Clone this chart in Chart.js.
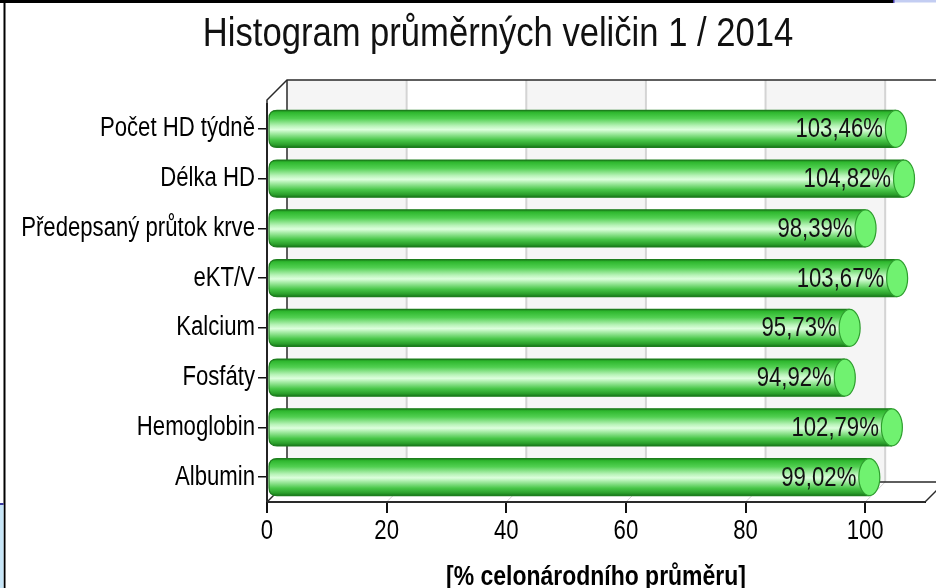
<!DOCTYPE html>
<html>
<head>
<meta charset="utf-8">
<script src="https://cdn.jsdelivr.net/npm/chart.js@4.4.1/dist/chart.umd.min.js"></script>
<style>
  html, body { margin: 0; padding: 0; background: #ffffff; }
  #wrap { width: 936px; height: 588px; position: relative; }
</style>
</head>
<body>
<div id="wrap"><canvas id="c" width="936" height="588"></canvas></div>
<script>
// ---- data ----
const chartTitle = 'Histogram průměrných veličin 1 / 2014';
const axisTitle = '[% celonárodního průměru]';
const categories = ['Počet HD týdně', 'Délka HD', 'Předepsaný průtok krve', 'eKT/V', 'Kalcium', 'Fosfáty', 'Hemoglobin', 'Albumin'];
const values = [103.46, 104.82, 98.39, 103.67, 95.73, 94.92, 102.79, 99.02];
const xTickValues = [0, 20, 40, 60, 80, 100];

const FONT = '"Liberation Sans", Arial, sans-serif';
const DEPTH = 20;

function fmt(v) { return v.toFixed(2).replace('.', ',') + '%'; }

// narrow-looking text: draw every label horizontally condensed around its anchor
const canvas = document.getElementById('c');
const ctx2d = canvas.getContext('2d');
const origFillText = ctx2d.fillText.bind(ctx2d);
ctx2d.fillText = function (text, x, y, maxWidth) {
  const m = /(\d+(?:\.\d+)?)px/.exec(this.font);
  const size = m ? parseFloat(m[1]) : 12;
  const f = size >= 36 ? 0.865 : 0.82;
  this.save();
  this.translate(x, y);
  this.scale(f, 1);
  if (maxWidth === undefined) origFillText(text, 0, 0);
  else origFillText(text, 0, 0, maxWidth / f);
  this.restore();
};

function cylGrad(ctx, top, bottom) {
  const g = ctx.createLinearGradient(0, top, 0, bottom);
  g.addColorStop(0.00, '#1c861c');
  g.addColorStop(0.06, '#2fb82f');
  g.addColorStop(0.22, '#52d052');
  g.addColorStop(0.42, '#b8f3b8');
  g.addColorStop(0.52, '#ddffdd');
  g.addColorStop(0.62, '#a6eca6');
  g.addColorStop(0.80, '#48c648');
  g.addColorStop(0.93, '#2b9f2b');
  g.addColorStop(1.00, '#17761a');
  return g;
}

const threeD = {
  id: 'threeD',
  afterLayout(chart) {
    // the original title is centred a little right of the canvas centre
    if (chart.titleBlock) { chart.titleBlock.left = 60; chart.titleBlock.right = 936; }
  },
  beforeDatasetsDraw(chart) {
    const ctx = chart.ctx, a = chart.chartArea, xs = chart.scales.x;
    const top = a.top - 4, bot = a.bottom;
    const bTop = top - DEPTH, bBot = bot - DEPTH;
    const W = chart.width;
    ctx.save();
    for (let i = 0; i < xTickValues.length - 1; i++) {
      const x0 = xs.getPixelForValue(xTickValues[i]) + DEPTH;
      const x1 = xs.getPixelForValue(xTickValues[i + 1]) + DEPTH;
      ctx.fillStyle = (i % 2 === 0) ? '#f5f5f5' : '#ffffff';
      ctx.fillRect(x0, bTop, x1 - x0, bBot - bTop);
    }
    ctx.strokeStyle = '#d4d4d4';
    ctx.lineWidth = 2;
    xTickValues.forEach((v, i) => {
      if (i === 0) return;
      const x = xs.getPixelForValue(v) + DEPTH;
      ctx.beginPath(); ctx.moveTo(x, bTop); ctx.lineTo(x, bBot); ctx.stroke();
    });
    ctx.strokeStyle = '#d0d0d0';
    ctx.lineWidth = 1;
    xTickValues.forEach((v) => {
      const x = xs.getPixelForValue(v);
      ctx.beginPath(); ctx.moveTo(x, bot); ctx.lineTo(x + DEPTH, bBot); ctx.stroke();
    });
    ctx.strokeStyle = '#2a2a2a';
    ctx.lineWidth = 1.5;
    const x0f = a.left, x0b = a.left + DEPTH;
    ctx.beginPath();
    ctx.moveTo(x0f, bot); ctx.lineTo(x0f, top); ctx.lineTo(x0b, bTop); ctx.lineTo(W, bTop);
    ctx.stroke();
    ctx.beginPath(); ctx.moveTo(x0b, bTop); ctx.lineTo(x0b, bBot); ctx.lineTo(W, bBot); ctx.stroke();
    ctx.beginPath(); ctx.moveTo(x0f, bot); ctx.lineTo(x0b, bBot); ctx.stroke();
    ctx.beginPath(); ctx.moveTo(a.right, bot); ctx.lineTo(a.right + DEPTH, bBot); ctx.stroke();
    ctx.lineWidth = 2;
    ctx.beginPath(); ctx.moveTo(a.left, bot); ctx.lineTo(a.right, bot); ctx.stroke();
    ctx.restore();
  },
  afterDatasetsDraw(chart) {
    const ctx = chart.ctx;
    const meta = chart.getDatasetMeta(0);
    ctx.save();
    meta.data.forEach((el, i) => {
      const p = el.getProps(['x', 'y', 'base', 'height'], true);
      const h = p.height, t = p.y - h / 2, b = p.y + h / 2;
      const x0 = p.base + 1, xe = p.x + 10, r = 8;
      const body = () => {
        ctx.beginPath();
        ctx.moveTo(xe, t);
        ctx.lineTo(x0 + r, t);
        ctx.quadraticCurveTo(x0, t, x0, t + r);
        ctx.lineTo(x0, b - r);
        ctx.quadraticCurveTo(x0, b, x0 + r, b);
        ctx.lineTo(xe, b);
      };
      body(); ctx.closePath();
      ctx.fillStyle = cylGrad(ctx, t, b);
      ctx.fill();
      ctx.strokeStyle = '#1e7e1e';
      ctx.lineWidth = 1.2;
      body(); ctx.stroke();
      ctx.beginPath();
      ctx.ellipse(xe, p.y, 10.5, h / 2, 0, 0, Math.PI * 2);
      ctx.fillStyle = '#70f270';
      ctx.fill();
      ctx.strokeStyle = '#2e9e2e';
      ctx.lineWidth = 1.2;
      ctx.stroke();
      ctx.fillStyle = '#111111';
      ctx.font = '27px ' + FONT;
      ctx.textAlign = 'right';
      ctx.textBaseline = 'middle';
      ctx.fillText(fmt(values[i]), p.x - 3, p.y + 1);
    });
    ctx.restore();
  },
  afterDraw(chart) {
    const ctx = chart.ctx;
    ctx.save();
    ctx.fillStyle = '#000000';
    ctx.fillRect(0, 0, 893, 3);
    ctx.fillRect(3.5, 0, 2, 588);
    ctx.fillStyle = '#c3cdf2';
    ctx.fillRect(894, 0, 42, 2.5);
    ctx.fillStyle = '#4a3fb0';
    ctx.fillRect(893, 0, 1.5, 3);
    ctx.fillStyle = '#c7e6f8';
    ctx.fillRect(0, 505, 3.5, 83);
    ctx.fillStyle = '#3a3aa0';
    ctx.fillRect(0, 503, 3.5, 2);
    ctx.restore();
  }
};

new Chart(canvas, {
  type: 'bar',
  data: {
    labels: categories,
    datasets: [{
      data: values,
      backgroundColor: 'rgba(0,0,0,0)',
      borderWidth: 0,
      categoryPercentage: 1,
      barPercentage: 0.745
    }]
  },
  options: {
    indexAxis: 'y',
    responsive: false,
    animation: false,
    devicePixelRatio: 1,
    layout: { padding: { left: 0, right: 11, top: 0, bottom: 0 } },
    plugins: {
      legend: { display: false },
      tooltip: { enabled: false },
      title: {
        display: true,
        text: chartTitle,
        color: '#111111',
        font: { family: FONT, size: 40, weight: 'normal', lineHeight: 1.2 },
        padding: { top: 11, bottom: 45 }
      }
    },
    scales: {
      x: {
        min: 0,
        max: 110,
        afterBuildTicks(scale) { scale.ticks = xTickValues.map(v => ({ value: v })); },
        afterFit(scale) { scale.height = 86; },
        grid: { drawOnChartArea: false, drawTicks: true, tickLength: 11, color: '#111111', lineWidth: 2 },
        border: { display: true, color: '#111111', width: 2 },
        ticks: { color: '#000000', font: { family: FONT, size: 27 }, padding: 2, maxRotation: 0 },
        title: {
          display: true,
          text: axisTitle,
          color: '#000000',
          font: { family: FONT, size: 28, weight: 'bold', lineHeight: 1 },
          padding: { top: 0, bottom: -3 }
        }
      },
      y: {
        afterFit(scale) { scale.width = 267; },
        grid: { drawOnChartArea: false, drawTicks: true, offset: false, tickLength: 9, color: '#111111', lineWidth: 1.5 },
        border: { display: true, color: '#111111', width: 2 },
        ticks: { color: '#000000', font: { family: FONT, size: 27 }, padding: 3 }
      }
    }
  },
  plugins: [threeD]
});
</script>
</body>
</html>
